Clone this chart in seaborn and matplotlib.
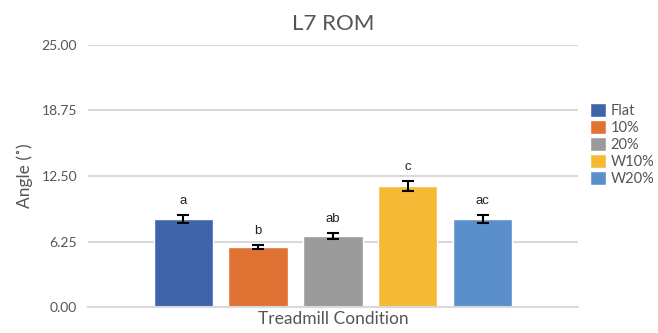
import numpy as np
import pandas as pd
import seaborn as sns
import matplotlib.pyplot as plt

conditions = ["Flat", "10%", "20%", "W10%", "W20%"]
means = [8.4, 5.75, 6.8, 11.55, 8.4]
errors = [0.4, 0.2, 0.3, 0.5, 0.4]
letters = ["a", "b", "ab", "c", "ac"]
colors = ["#4064AC", "#E07234", "#9B9B9B", "#F6B935", "#5B8FCB"]
yticks = [0.0, 6.25, 12.5, 18.75, 25.0]

df = pd.DataFrame({"group": ["Treadmill Condition"] * 5,
                   "cond": conditions, "angle": means})

sns.set_style("white")
plt.rcParams['font.family'] = ['Lato', 'DejaVu Sans']

fig = plt.figure(figsize=(6.58, 3.33), dpi=100)
ax = fig.add_axes([0.134, 0.078, 0.744, 0.787])

sns.barplot(data=df, x="group", y="angle", hue="cond", hue_order=conditions,
            palette=colors, width=0.765, gap=0.21, saturation=1,
            errorbar=None, ax=ax, legend=True)

# error bars + significance letters, placed on the bars seaborn drew
for cont, m, e, t in zip(ax.containers, means, errors, letters):
    b = cont.patches[0]
    cx = b.get_x() + b.get_width() / 2
    ax.errorbar(cx, m, yerr=e, color="black", capsize=4, capthick=1.5,
                elinewidth=1.5, zorder=5)
    ax.text(cx, m + e + 0.75, t, ha="center", va="bottom", fontsize=9.5,
            family=["Liberation Sans"], color="#222222")

ax.set_ylim(0, 25)
ax.set_xlim(-0.5, 0.5)
ax.set_yticks(yticks)
ax.set_yticklabels([f"{v:.2f}" for v in yticks], fontsize=10, color="#555555")
ax.set_xticks([])
ax.yaxis.grid(True, color="#D9D9D9", linewidth=1.5)
ax.set_axisbelow(True)
ax.tick_params(axis="y", length=0, pad=8)
for s in ["top", "right", "left"]:
    ax.spines[s].set_visible(False)
ax.spines["bottom"].set_color("#D9D9D9")
ax.spines["bottom"].set_linewidth(1.5)

ax.set_xlabel("Treadmill Condition", fontsize=12.5, color="#555555", labelpad=3)
ax.set_ylabel("Angle (˚)", fontsize=12.5, color="#555555", labelpad=6)
ax.set_title("L7 ROM", fontsize=16, color="#555555", pad=11)

leg = ax.legend(loc="center left", bbox_to_anchor=(0.995, 0.62), frameon=False,
                fontsize=10.5, handlelength=1.1, handleheight=1.1,
                handletextpad=0.3, labelspacing=0.14, borderaxespad=0.6)
for txt in leg.get_texts():
    txt.set_color("#555555")

fig.savefig("out.png", dpi=100)
